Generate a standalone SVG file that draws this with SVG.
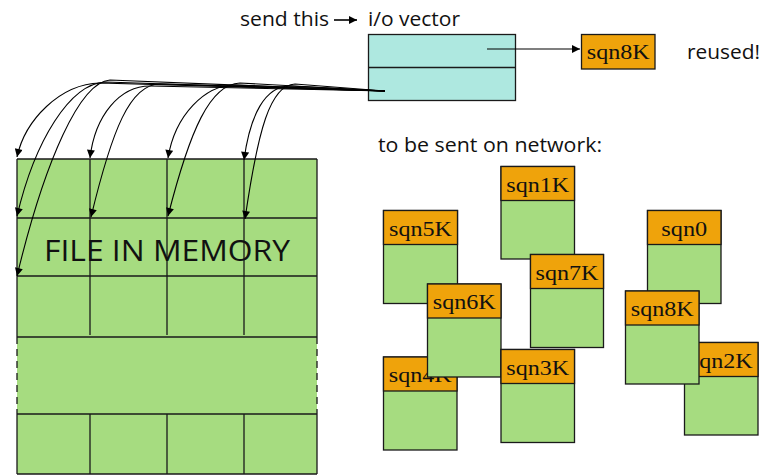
<svg xmlns="http://www.w3.org/2000/svg" width="777" height="476" viewBox="0 0 777 476">
  <style>
    .sans { font-family: "Open Sans", "Noto Sans", "DejaVu Sans", sans-serif; fill: #111; }
    .serif { font-family: "Liberation Serif", "Times New Roman", serif; font-size: 22px; fill: #111; text-anchor: middle; }
    .body { fill: #A6DC80; stroke: #1a1a1a; stroke-width: 1.3; }
    .hdr { fill: #EFA30B; stroke: #1a1a1a; stroke-width: 1.3; }
    .cyan { fill: #AEE8E0; stroke: #1a1a1a; stroke-width: 1.3; }
    .grid { stroke: #1a1a1a; stroke-width: 1.3; fill: none; }
    .link { stroke: #000; stroke-width: 1.1; fill: none; marker-end: url(#head); }
  </style>
  <defs>
    <marker id="head" viewBox="0 0 10 10" refX="10" refY="5" markerWidth="9" markerHeight="8" markerUnits="userSpaceOnUse" orient="auto">
      <path d="M0,0 L10,5 L0,10 Z" fill="#000"/>
    </marker>
  </defs>

  <!-- heading labels -->
  <text class="sans" x="240" y="26" font-size="20" textLength="89" lengthAdjust="spacingAndGlyphs">send this</text>
  <line x1="334" y1="20" x2="357" y2="20" stroke="#000" stroke-width="1.6" marker-end="url(#head)"/>
  <text class="sans" x="368" y="26" font-size="20" textLength="92" lengthAdjust="spacingAndGlyphs">i/o vector</text>
  <text class="sans" x="687" y="59" font-size="20" textLength="73" lengthAdjust="spacingAndGlyphs">reused!</text>
  <text class="sans" x="378" y="152" font-size="20" textLength="224" lengthAdjust="spacingAndGlyphs">to be sent on network:</text>

  <!-- i/o vector -->
  <g id="iovec">
    <rect class="cyan" x="368.5" y="34.5" width="147" height="66"/>
    <line class="grid" x1="368.5" y1="67.5" x2="515.5" y2="67.5"/>
  </g>

  <!-- reused buffer -->
  <g id="reused-sqn8K">
    <rect class="hdr" x="581.5" y="34.5" width="73.5" height="34.5"/>
    <text class="serif" x="618.3" y="59" textLength="63" lengthAdjust="spacingAndGlyphs">sqn8K</text>
  </g>

  <!-- file in memory -->
  <g id="file">
    <rect x="17" y="159" width="300" height="315" fill="#A6DC80"/>
    <path class="grid" d="M17,159 H317 M17,218 H317 M17,276 H317 M17,337 H317 M17,414 H317 M17,474 H317
                          M17,159 V337 M317,159 V337 M17,414 V474 M317,414 V474
                          M90,159 V335 M167,159 V335 M244,159 V335
                          M90,414 V474 M167,414 V474 M244,414 V474"/>
    <path class="grid" stroke-width="2" stroke-dasharray="7,5" d="M17,337 V414 M317,337 V414"/>
    <text class="sans" x="44" y="261" font-size="30" textLength="246" lengthAdjust="spacingAndGlyphs">FILE IN MEMORY</text>
  </g>

  <!-- packets on the wire -->
  <g id="pkt-sqn5K" transform="translate(383.5,210.5)">
    <rect class="body" width="74" height="93"/>
    <rect class="hdr" width="74" height="34"/>
    <text class="serif" x="37" y="25" textLength="63" lengthAdjust="spacingAndGlyphs">sqn5K</text>
  </g>
  <g id="pkt-sqn4K" transform="translate(383.5,357)">
    <rect class="body" width="73.5" height="93"/>
    <rect class="hdr" width="73.5" height="34"/>
    <text class="serif" x="36.75" y="25" textLength="63" lengthAdjust="spacingAndGlyphs">sqn4K</text>
  </g>
  <g id="pkt-sqn6K" transform="translate(427.5,284)">
    <rect class="body" width="73.5" height="93"/>
    <rect class="hdr" width="73.5" height="34"/>
    <text class="serif" x="36.75" y="25" textLength="63" lengthAdjust="spacingAndGlyphs">sqn6K</text>
  </g>
  <g id="pkt-sqn1K" transform="translate(501,166.5)">
    <rect class="body" width="73.5" height="92.5"/>
    <rect class="hdr" width="73.5" height="34"/>
    <text class="serif" x="36.75" y="25" textLength="63" lengthAdjust="spacingAndGlyphs">sqn1K</text>
  </g>
  <g id="pkt-sqn7K" transform="translate(530.5,254.5)">
    <rect class="body" width="73" height="93"/>
    <rect class="hdr" width="73" height="34"/>
    <text class="serif" x="36.5" y="25" textLength="63" lengthAdjust="spacingAndGlyphs">sqn7K</text>
  </g>
  <g id="pkt-sqn3K" transform="translate(501,349.5)">
    <rect class="body" width="73.5" height="93"/>
    <rect class="hdr" width="73.5" height="34"/>
    <text class="serif" x="36.75" y="25" textLength="63" lengthAdjust="spacingAndGlyphs">sqn3K</text>
  </g>
  <g id="pkt-sqn0" transform="translate(647.5,210.5)">
    <rect class="body" width="73.5" height="93"/>
    <rect class="hdr" width="73.5" height="34"/>
    <text class="serif" x="36.75" y="25" textLength="46" lengthAdjust="spacingAndGlyphs">sqn0</text>
  </g>
  <g id="pkt-sqn2K" transform="translate(684.5,342.5)">
    <rect class="body" width="73.5" height="92.5"/>
    <rect class="hdr" width="73.5" height="34"/>
    <text class="serif" x="36.75" y="25" textLength="63" lengthAdjust="spacingAndGlyphs">sqn2K</text>
  </g>
  <g id="pkt-sqn8K" transform="translate(625.5,291)">
    <rect class="body" width="73.5" height="93"/>
    <rect class="hdr" width="73.5" height="34"/>
    <text class="serif" x="36.75" y="25" textLength="63" lengthAdjust="spacingAndGlyphs">sqn8K</text>
  </g>

  <!-- connectors: i/o vector entries pointing into the file and to the reused buffer -->
  <g id="connectors">
    <line class="link" x1="487" y1="49" x2="580" y2="49"/>
    <path class="link" d="M385,91 L100,83 C60,84 25,120 17,157"/>
    <path class="link" d="M385,91 L105,82 C70,84 35,140 17,216"/>
    <path class="link" d="M385,91 L110,80 C80,82 45,160 17,276"/>
    <path class="link" d="M385,91 L150,86 C120,86 95,115 90,158"/>
    <path class="link" d="M385,91 L160,84 C130,84 112,130 91,217"/>
    <path class="link" d="M385,91 L235,85 C205,85 175,115 168,158"/>
    <path class="link" d="M385,91 L240,83 C210,84 190,130 168,216"/>
    <path class="link" d="M385,91 L290,86 C265,86 250,115 244,160"/>
    <path class="link" d="M385,91 L295,84 C270,85 258,130 245,219"/>
  </g>
</svg>
